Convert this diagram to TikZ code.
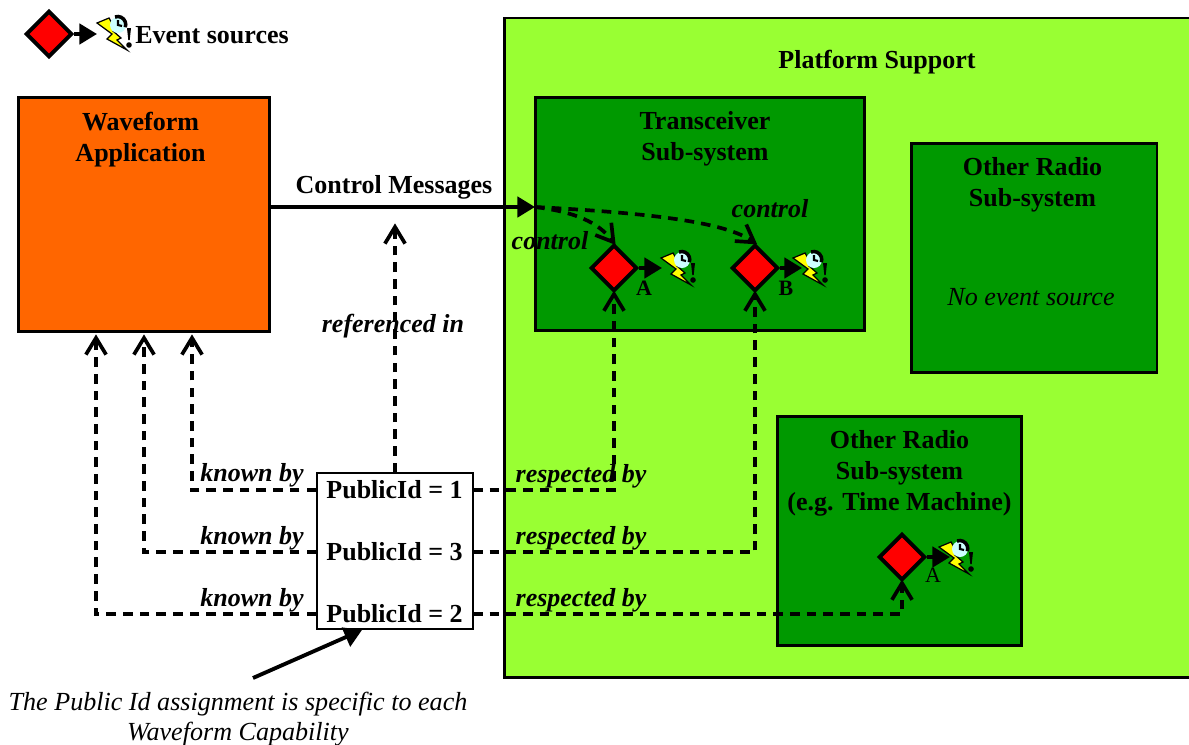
\documentclass[tikz,border=0pt]{standalone}
\usepackage{fontspec}
\setmainfont{Liberation Serif}
\usetikzlibrary{positioning,arrows.meta,shapes.geometric,calc}

\definecolor{platformgreen}{HTML}{99FF33}
\definecolor{subgreen}{HTML}{009900}
\definecolor{waveorange}{HTML}{FF6600}
\definecolor{boltyellow}{HTML}{FFFF00}
\definecolor{clockblue}{HTML}{CCFFFF}

\tikzset{
  sysbox/.style={draw, line width=1.7pt, inner sep=0pt},
  lbl/.style={font=\fontsize{14.8}{17.6}\selectfont\bfseries, align=center, inner sep=0pt},
  ilbl/.style={font=\fontsize{14.8}{17.6}\selectfont\bfseries\itshape, align=center, inner sep=0pt},
  note/.style={font=\fontsize{14.85}{17.3}\selectfont\itshape, align=center, inner sep=0pt},
  tag/.style={font=\fontsize{12.5}{14}\selectfont\bfseries, inner sep=0pt},
  source/.style={draw, fill=red, diamond, aspect=1, line width=2.2pt, minimum size=0.93cm, inner sep=0pt},
  solidarrow/.style={line width=2.2pt, -{Triangle[length=10pt,width=11.5pt]}},
  refarrow/.style={line width=2.1pt, dash pattern=on 5.5pt off 4pt, shorten >=-1.5pt, -{Straight Barb[length=9.5pt,width=11.5pt]}},
  eventicon/.pic={
    \draw[fill=boltyellow, line width=0.7pt] (0,-11) -- (12,-16) -- (19,-4) -- (16,-3) -- (24,4) -- (20,6) -- (30,16) -- (10,5) -- (15,0) -- cycle;
    \fill[clockblue] (21,-9) circle (8);
    \draw[line width=2pt] (18,-17) arc[start angle=-110, end angle=20, x radius=8, y radius=8];
    \draw[line width=1.2pt] (21,-14) -- (21,-9) -- (25,-8);
    \fill (30,-6) -- (34,-6) -- (32.7,6) -- (31.3,6) -- cycle;
    \fill (32,11) circle (2.8);
  }
}

\begin{document}
\begin{tikzpicture}[x=0.02cm, y=-0.02cm]
\useasboundingbox (0,0) rectangle (1189,744);

% Legend
\node[source] (legsrc) at (49,34) {};
\coordinate (legend) at (97,34);
\draw[solidarrow] (legsrc) -- (legend);
\pic at (legend) {eventicon};
\node[lbl, anchor=west] (legtxt) at (135,35) {Event sources};

% Platform and sub-systems
\draw[line width=1.7pt, fill=platformgreen] (1200,18) -- (504,18) -- (504,677) -- (1200,677);
\node[lbl] (platform) at (877,62) {Platform Support};

\node[sysbox, fill=waveorange, minimum width=5.04cm, minimum height=4.70cm] (wave) at (144,214.5) {};
\node[lbl, below=0.32cm of wave.north, xshift=-0.07cm] (wavetxt) {Waveform\\Application};

\node[sysbox, fill=subgreen, minimum width=6.60cm, minimum height=4.68cm] (trans) at (700,214) {};
\node[lbl, below=0.32cm of trans.north, xshift=0.1cm] (transtxt) {Transceiver\\Sub-system};

\node[sysbox, fill=subgreen, minimum width=4.92cm, minimum height=4.60cm] (radio) at (1034,258) {};
\node[lbl, below=0.32cm of radio.north, xshift=-0.03cm] (radiotxt) {Other Radio\\Sub-system};
\node[note] (noevent) at (1031,297) {No event source};

\node[sysbox, fill=subgreen, minimum width=4.90cm, minimum height=4.60cm] (tm) at (899.5,531) {};
\node[lbl, below=0.32cm of tm.north] (tmtxt) {Other Radio\\Sub-system\\(e.g. Time Machine)};

% Event sources
\node[source] (srcA) at (614,268) {};
\node[source] (srcB) at (755,268) {};
\node[source] (srcC) at (902,557) {};
\coordinate (evA) at (662,268);
\coordinate (evB) at (802,268);
\coordinate (evC) at (950,557);
\draw[solidarrow] (srcA) -- (evA);
\draw[solidarrow] (srcB) -- (evB);
\draw[solidarrow] (srcC) -- (evC);
\pic at (661,269) {eventicon};
\pic at (793,269) {eventicon};
\pic at (939,558) {eventicon};
\node[tag] (nameA) at (644,288) {A};
\node[tag] (nameB) at (786,288) {B};
\node[tag, font=\fontsize{12.5}{14}\selectfont] (nameC) at (933,575) {A};

% PublicId box
\node[draw, fill=white, line width=0.8pt, minimum width=3.12cm, minimum height=3.12cm, inner sep=0pt] (idbox) at (395,551) {};
\node[lbl, minimum width=3.12cm] (id1) at (394.5,490) {PublicId = 1};
\node[lbl, minimum width=3.12cm] (id3) at (394.5,552) {PublicId = 3};
\node[lbl, minimum width=3.12cm] (id2) at (394.5,614) {PublicId = 2};

% Control messages
\coordinate (ctrl) at (535,207);
\draw[solidarrow] (wave.east |- ctrl) -- (ctrl);
\node[lbl] (ctrltxt) at (394,187) {Control Messages};
\draw[refarrow] (ctrl) .. controls (575,212) and (598,222) .. (srcA.north);
\draw[refarrow] (ctrl) .. controls (650,213) and (725,222) .. (srcB.north);
\node[ilbl] (ctrlA) at (550,241) {control};
\node[ilbl] (ctrlB) at (770,209) {control};

% References
\coordinate (refend) at (395,226);
\draw[refarrow] (idbox.north -| refend) -- (refend);
\node[ilbl] (reftxt) at (393,326) {referenced in};

% Known by
\coordinate (kn1) at (192,337);
\coordinate (kn3) at (144,337);
\coordinate (kn2) at (96,337);
\draw[refarrow] (id1.west) -| (kn1);
\draw[refarrow] (id3.west) -| (kn3);
\draw[refarrow] (id2.west) -| (kn2);
\node[ilbl] (kt1) at (252,475) {known by};
\node[ilbl] (kt3) at (252,538) {known by};
\node[ilbl] (kt2) at (252,600) {known by};

% Respected by
\draw[refarrow] (id1.east) -| (srcA.south);
\draw[refarrow] (id3.east) -| (srcB.south);
\draw[refarrow] (id2.east) -| (srcC.south);
\node[ilbl] (rt1) at (581,476) {respected by};
\node[ilbl] (rt3) at (581,538) {respected by};
\node[ilbl] (rt2) at (581,600) {respected by};

% Assignment note
\node[note] (assign) at (238,719) {The Public Id assignment is specific to each\\Waveform Capability};
\coordinate (assignfrom) at (253,678);
\coordinate (assignto) at (362,630);
\draw[solidarrow] (assignfrom) -- (assignto);

\end{tikzpicture}
\end{document}
